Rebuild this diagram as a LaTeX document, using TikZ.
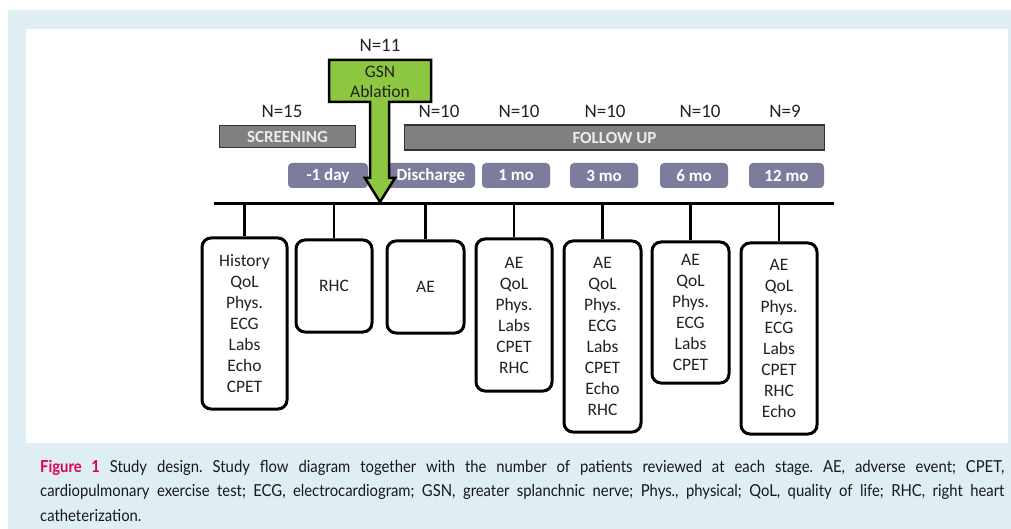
\documentclass[tikz,border=0pt]{standalone}
\usepackage{fontspec}
\setmainfont{Carlito}
\newfontfamily\capfont{Lato}[FakeStretch=0.9]
\definecolor{bgblue}{RGB}{222,238,243}
\definecolor{gsngreen}{RGB}{141,198,63}
\definecolor{pill}{RGB}{124,124,156}
\definecolor{bar}{RGB}{128,128,128}
\definecolor{barline}{RGB}{50,50,50}
\definecolor{figred}{RGB}{222,0,82}
\definecolor{txt}{RGB}{34,34,34}
\definecolor{captxt}{RGB}{24,24,24}
\begin{document}
\begin{tikzpicture}[x=1pt,y=-1pt,
 nlabel/.style={font=\fontsize{19}{22}\selectfont, text=txt, inner sep=0pt},
 sbox/.style={draw=black, line width=3pt, rounded corners=9pt, fill=white, align=center,
   font=\fontsize{17.5}{21}\selectfont, text=txt, inner sep=0pt},
 pillbox/.style={fill=pill, rounded corners=4pt, font=\bfseries\fontsize{17}{18}\selectfont,
   text=white, minimum height=25pt, inner sep=0pt},
 barbox/.style={fill=bar, draw=barline, line width=1.5pt, font=\bfseries\fontsize{17}{18}\selectfont,
   text=white!92!black, inner sep=0pt},
 tick/.style={line width=2.5pt},
 gsnarrow/.style={fill=gsngreen, draw=black, line width=2.5pt, line join=miter},
]
\useasboundingbox (0,0) rectangle (1011,529);
\fill[bgblue] (8,10) rectangle (1011,529);
\fill[white] (26,29) rectangle (1008,443);

% N labels
\node[nlabel] (n11) at (380,45) {N=11};
\node[nlabel] (n15) at (282,111) {N=15};
\node[nlabel] (n10a) at (439,111) {N=10};
\node[nlabel] (n10b) at (519,111) {N=10};
\node[nlabel] (n10c) at (605,111) {N=10};
\node[nlabel] (n10d) at (700,111) {N=10};
\node[nlabel] (n9) at (785,111) {N=9};

% bars
\node[barbox, minimum width=136pt, minimum height=22pt] (scr) at (287.5,136.5) {SCREENING};
\node[barbox, minimum width=420pt, minimum height=25pt] (fu) at (614.5,137.5) {FOLLOW UP};

% time pills
\node[pillbox, minimum width=80pt] (p1) at (328,175.5) {-1 day};
\node[pillbox, minimum width=88pt] (p2) at (431,175.5) {Discharge};
\node[pillbox, minimum width=68pt] (p3) at (516,175.5) {1 mo};
\node[pillbox, minimum width=68pt] (p4) at (604,175.5) {3 mo};
\node[pillbox, minimum width=68pt] (p5) at (694,175.5) {6 mo};
\node[pillbox, minimum width=75pt] (p6) at (786.5,175.5) {12 mo};

% timeline
\coordinate (tlL) at (214,204);
\coordinate (tlR) at (834,204);
\draw[line width=3pt] (tlL) -- (tlR);

% boxes
\node[sbox, minimum width=85pt, minimum height=171pt] (b1) at (244.5,323.5) {History\\QoL\\Phys.\\ECG\\Labs\\Echo\\CPET};
\node[sbox, minimum width=76pt, minimum height=92pt] (b2) at (334,286) {RHC};
\node[sbox, minimum width=77pt, minimum height=92pt] (b3) at (425.5,287) {AE};
\node[sbox, minimum width=76pt, minimum height=152pt] (b4) at (514,315) {AE\\QoL\\Phys.\\Labs\\CPET\\RHC};
\node[sbox, minimum width=77pt, minimum height=191pt] (b5) at (602.5,336.5) {AE\\QoL\\Phys.\\ECG\\Labs\\CPET\\Echo\\RHC};
\node[sbox, minimum width=77pt, minimum height=141pt] (b6) at (690.5,312.5) {AE\\QoL\\Phys.\\ECG\\Labs\\CPET};
\node[sbox, minimum width=76pt, minimum height=191pt] (b7) at (779,338.5) {AE\\QoL\\Phys.\\ECG\\Labs\\CPET\\RHC\\Echo};

\foreach \b in {b1,b2,b3,b4,b5,b6,b7}
  \draw[tick] (\b.north) -- (\b.north |- tlL);

% GSN ablation arrow
\draw[gsnarrow] (329,60) -- (431,60) -- (431,102) -- (389,102) -- (389,178) -- (395,178)
  -- (380,202) -- (365,178) -- (370,178) -- (370,102) -- (329,102) -- cycle;
\node[nlabel, align=center, font=\fontsize{17.5}{20}\selectfont] (gsn) at (380,82) {GSN\\Ablation};

% caption
\node[anchor=base west, text width=964pt, align=justify, inner sep=0pt,
  font=\capfont\fontsize{16.5}{24.5}\selectfont\frenchspacing, text=captxt] (cap) at (40,472)
 {\textcolor{figred}{\textbf{Figure 1}} Study design. Study flow diagram together with the number of patients reviewed at each stage. AE, adverse event; CPET,\linebreak cardiopulmonary exercise test; ECG, electrocardiogram; GSN, greater splanchnic nerve; Phys., physical; QoL, quality of life; RHC, right heart\linebreak catheterization.};
\end{tikzpicture}
\end{document}
